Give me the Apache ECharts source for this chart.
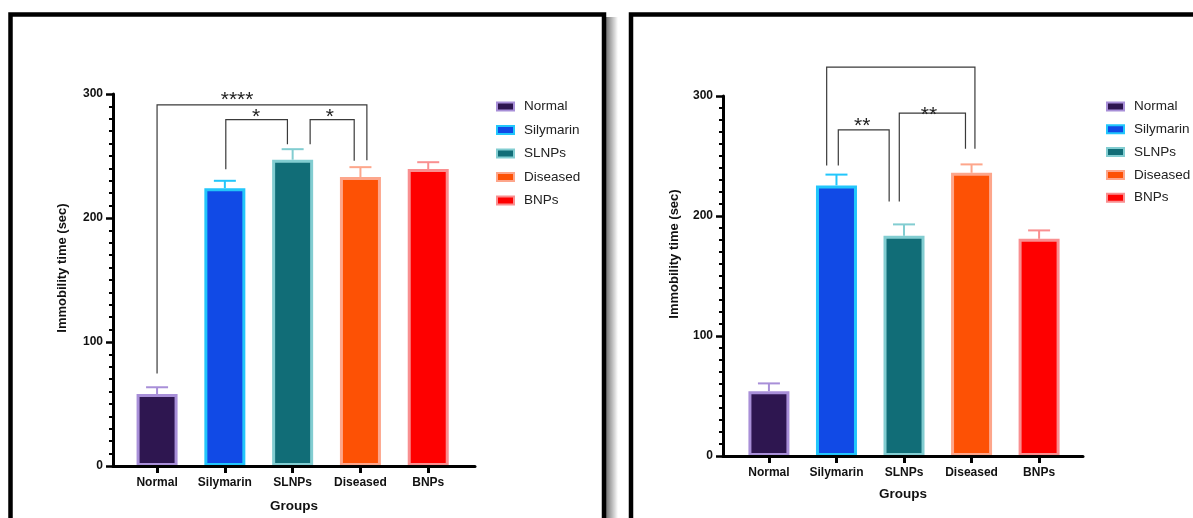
<!DOCTYPE html>
<html>
<head>
<meta charset="utf-8">
<script src="https://cdn.jsdelivr.net/npm/echarts@6/dist/echarts.min.js"></script>
<style>
  html, body { margin: 0; padding: 0; background: #fff; }
  #myChart { width: 1193px; height: 518px; }
</style>
</head>
<body>
<div id="myChart"></div>
<script>
  // groups + colours
  const groups = ['Normal', 'Silymarin', 'SLNPs', 'Diseased', 'BNPs'];
  const fills = ['#2e1650', '#114ae6', '#116d77', '#fd5105', '#fe0000'];
  const borders = ['#a88fd8', '#22c6fb', '#82cdd1', '#fda68b', '#f98f90'];

  // left panel: mean immobility time and SEM
  const meanA = [58, 224, 247, 233, 239.5];
  const semA = [5.5, 6, 8.5, 8, 5.5];
  // right panel
  const meanB = [54, 225.5, 183.5, 236, 181];
  const semB = [6.5, 9, 9.5, 7, 7];

  const catTicks = [0, 1, 2, 3, 4];

  // significance brackets: [xStart, xEnd, yTop, yLeftLeg, yRightLeg]
  const bracketsA = [[0, 3.095, 291.2, 74.6, 246.6], [1.014, 1.923, 279.4, 239.4, 259.4], [2.258, 2.908, 279.4, 259.4, 246.2]];
  const starPosA = [[1.18, 299.4], [1.46, 285.6], [2.55, 285.6]];
  const starTextA = ['****', '*', '*'];

  const bracketsB = [[0.855, 3.05, 324, 242, 256], [1.027, 1.78, 271.7, 242, 212], [1.93, 2.91, 285.8, 212, 256]];
  const starPosB = [[1.38, 279], [2.37, 288.3]];
  const starTextB = ['**', '**'];

  const FONT = '"Liberation Sans", Arial, sans-serif';

  let myChart = echarts.init(document.getElementById('myChart'));

  function xAxisFor(k, min, max, gap) {
    return {
      type: 'value', gridIndex: k, min: min, max: max, z: 5,
      axisLine: { show: true, onZero: false, lineStyle: { color: '#000', width: 3 } },
      axisTick: { show: true, length: 7, customValues: catTicks, lineStyle: { color: '#000', width: 3 } },
      axisLabel: {
        customValues: catTicks, margin: 11, color: '#111', fontWeight: 'bold', fontSize: 12, fontFamily: FONT,
        formatter: function (v) { return groups[Math.round(v)]; }
      },
      splitLine: { show: false },
      name: 'Groups', nameLocation: 'middle', nameGap: gap,
      nameTextStyle: { color: '#111', fontWeight: 'bold', fontSize: 13.5, fontFamily: FONT }
    };
  }

  function yAxisFor(k, gap, pad) {
    return {
      type: 'value', gridIndex: k, min: 0, max: 300, interval: 100, z: 5,
      axisLine: { show: true, onZero: false, lineStyle: { color: '#000', width: 3 } },
      axisTick: { show: true, length: 7, lineStyle: { color: '#000', width: 2.5 } },
      minorTick: { show: true, splitNumber: 10, length: 4, lineStyle: { color: '#000', width: 2 } },
      axisLabel: { margin: 10, color: '#111', fontWeight: 'bold', fontSize: 12, fontFamily: FONT, showMinLabel: true, showMaxLabel: true },
      splitLine: { show: false },
      minorSplitLine: { show: false },
      name: 'Immobility time (sec)', nameLocation: 'middle', nameGap: gap,
      nameTextStyle: { color: '#111', fontWeight: 'bold', fontSize: 13, fontFamily: FONT, padding: pad }
    };
  }

  function legendFor(left, top, gap) {
    return {
      orient: 'vertical', left: left, top: top, itemGap: gap,
      itemWidth: 17, itemHeight: 8, icon: 'rect',
      itemStyle: { borderWidth: 2 },
      textStyle: { fontSize: 13.5, color: '#222', fontFamily: FONT, padding: [0, 0, 0, 5] },
      data: groups
    };
  }

  function errorItem(params, api) {
    const x = api.value(0), m = api.value(1), s = api.value(2);
    const p0 = api.coord([x, m]);
    const p1 = api.coord([x, m + s]);
    const col = borders[params.dataIndex];
    return {
      type: 'group',
      children: [
        { type: 'line', shape: { x1: p0[0], y1: p0[1], x2: p1[0], y2: p1[1] }, style: { stroke: col, lineWidth: 2 } },
        { type: 'line', shape: { x1: p1[0] - 11, y1: p1[1], x2: p1[0] + 11, y2: p1[1] }, style: { stroke: col, lineWidth: 2 } }
      ]
    };
  }

  function bracketItem(params, api) {
    const x1 = api.value(0), x2 = api.value(1), top = api.value(2);
    const a = api.coord([x1, api.value(3)]);
    const b = api.coord([x1, top]);
    const c = api.coord([x2, top]);
    const d = api.coord([x2, api.value(4)]);
    return {
      type: 'polyline',
      shape: { points: [a, b, c, d] },
      style: { stroke: '#3a3a3a', lineWidth: 1.2, fill: null }
    };
  }

  function starItemFor(texts) {
    return function (params, api) {
      const p = api.coord([api.value(0), api.value(1)]);
      return {
        type: 'text', x: p[0], y: p[1] + 5,
        style: { text: texts[params.dataIndex], fontSize: 21, fontFamily: FONT, fill: '#222', align: 'center', verticalAlign: 'middle' }
      };
    };
  }

  function panelSeries(k, means, sems, brackets, starPos, starText) {
    const list = groups.map(function (g, i) {
      return {
        type: 'bar', name: g, xAxisIndex: k, yAxisIndex: k,
        barWidth: 41, barGap: '-100%',
        data: [[i, means[i]]],
        itemStyle: { color: fills[i], borderColor: borders[i], borderWidth: 3 }
      };
    });
    list.push({
      type: 'custom', xAxisIndex: k, yAxisIndex: k, renderItem: errorItem,
      encode: { x: 0, y: 1 }, clip: false,
      data: means.map(function (m, i) { return [i, m, sems[i]]; })
    });
    list.push({
      type: 'custom', xAxisIndex: k, yAxisIndex: k, renderItem: bracketItem,
      encode: { x: [0, 1], y: [2, 3, 4] }, clip: false, data: brackets
    });
    list.push({
      type: 'custom', xAxisIndex: k, yAxisIndex: k, renderItem: starItemFor(starText),
      encode: { x: 0, y: 1 }, clip: false, data: starPos
    });
    return list;
  }

  myChart.setOption({
    animation: false,
    backgroundColor: '#fff',
    grid: [
      { left: 113, top: 94, width: 362, height: 376 },
      { left: 723, top: 96, width: 360, height: 360 }
    ],
    xAxis: [xAxisFor(0, -0.65, 4.69, 33), xAxisFor(1, -0.68, 4.65, 31)],
    yAxis: [yAxisFor(0, 44, [0, 0, 0, 24]), yAxisFor(1, 42, [0, 0, 0, 44])],
    legend: [legendFor(491, 94.5, 9.5), legendFor(1101, 94.5, 8.8)],
    graphic: [
      { type: 'rect', shape: { x: 10.5, y: 14.5, width: 593.5, height: 540 }, style: { fill: null, stroke: '#000', lineWidth: 4.5 } },
      {
        type: 'rect', shape: { x: 606, y: 17, width: 12, height: 520 },
        style: {
          fill: new echarts.graphic.LinearGradient(0, 0, 1, 0, [
            { offset: 0, color: 'rgba(0,0,0,0.55)' },
            { offset: 1, color: 'rgba(0,0,0,0)' }
          ])
        }
      },
      { type: 'rect', shape: { x: 631, y: 14.5, width: 600, height: 540 }, style: { fill: null, stroke: '#000', lineWidth: 4.5 } }
    ],
    series: panelSeries(0, meanA, semA, bracketsA, starPosA, starTextA)
      .concat(panelSeries(1, meanB, semB, bracketsB, starPosB, starTextB))
  });
</script>
</body>
</html>
